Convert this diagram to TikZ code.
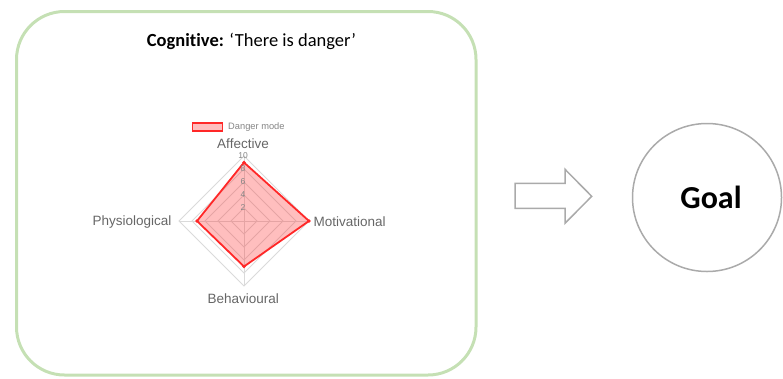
\documentclass[tikz,border=0pt]{standalone}
\usepackage{fontspec}
\setmainfont[Ligatures=NoCommon]{Carlito}
\newfontfamily\chartfont{Liberation Sans}
\usetikzlibrary{shapes.geometric,calc}
\definecolor{boxgreen}{RGB}{197,224,180}
\definecolor{chartgrey}{RGB}{102,102,102}
\definecolor{gridgrey}{RGB}{218,218,218}
\definecolor{outlinegrey}{RGB}{170,170,170}
\definecolor{danger}{RGB}{255,40,40}

\begin{document}
\begin{tikzpicture}[x=1pt,y=-1pt,
		axislabel/.style={font=\chartfont\fontsize{13.5}{15}\selectfont, text=chartgrey, inner sep=0},
		ticklabel/.style={font=\chartfont\fontsize{8.5}{9}\selectfont, text=chartgrey!80, inner sep=0},
		gridline/.style={draw=gridgrey, line width=0.8}]
		\useasboundingbox (0,0) rectangle (783,378);

		% Frame
		\draw[boxgreen, line width=3, rounded corners=48] (16.5,11.5) rectangle (476,375);
		\node (title) at (251.5,41) {\fontsize{18.5}{22}\selectfont\textbf{Cognitive:} ‘There is danger’};

		% Radar grid
		\coordinate (c) at (244,221);
		\foreach \r in {2,4,...,10}
			\draw[gridline] ($(c)+(0,{-6.5*\r})$) -- ($(c)+({6.5*\r},0)$) -- ($(c)+(0,{6.5*\r})$) -- ($(c)+({-6.5*\r},0)$) -- cycle;
		\draw[gridline] ($(c)+(0,-65)$) -- ($(c)+(0,65)$);
		\draw[gridline] ($(c)+(-65,0)$) -- ($(c)+(65,0)$);

		% Danger mode
		\coordinate (pa) at ($(c)+(0,-58.5)$);
		\coordinate (pm) at ($(c)+(65,0)$);
		\coordinate (pb) at ($(c)+(0,45.5)$);
		\coordinate (pp) at ($(c)+(-47,0)$);
		\fill[danger, fill opacity=0.3] (pa) -- (pm) -- (pb) -- (pp) -- cycle;
		\draw[danger, line width=1.8, line join=round] (pa) -- (pm) -- (pb) -- (pp) -- cycle;
		\foreach \p in {pa,pm,pb,pp}
			\fill[danger] (\p) circle (1.8);

		% Ticks
		\foreach \v in {2,4,...,10}
			\node[ticklabel] (tick\v) at ($(c)+(-1,{-6.5*\v})$) {\v};

		% Axis labels
		\node[axislabel] (affective) at (243,144) {Affective};
		\node[axislabel] (motivational) at (349.7,221.7) {Motivational};
		\node[axislabel] (physiological) at (132,221.7) {Physiological};
		\node[axislabel] (behavioural) at (243.3,299) {Behavioural};

		% Legend
		\node[draw=danger, line width=1.5, fill=danger!30, minimum width=30, minimum height=8, inner sep=0] (legendbox) at (207.5,127) {};
		\node[ticklabel, font=\chartfont\fontsize{9.3}{11}\selectfont, anchor=west] (legend) at (228,127) {Danger mode};

		% Block arrow
		\draw[outlinegrey, line width=1.5] (515,183.3) -- (565,183.3) -- (565,169.3) -- (591.7,196.3) -- (565,223.3) -- (565,208.3) -- (515,208.3) -- cycle;

		% Goal
		\node[ellipse, draw=outlinegrey, line width=1.5, minimum width=149, minimum height=148, inner sep=0] (goal) at (707,197.5) {};
		\node[font=\bfseries\fontsize{32}{36}\selectfont] (goaltext) at (711,197) {Goal};
	\end{tikzpicture}
\end{document}
